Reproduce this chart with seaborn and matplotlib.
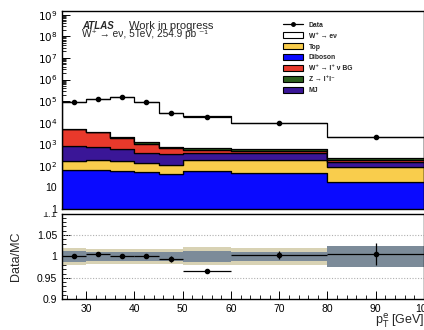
import numpy as np
import pandas as pd
import matplotlib
matplotlib.use("Agg")
import matplotlib.pyplot as plt
import matplotlib.ticker as mticker
from matplotlib.patches import Patch
from matplotlib.lines import Line2D
from matplotlib.transforms import Bbox
import seaborn as sns

# ====== DATA ======
edges = [25, 30, 35, 40, 45, 50, 60, 80, 100]
processes = ["W+ -> enu", "Z -> ll", "W -> lnu BG", "MJ", "Top", "Diboson"]

signal = [88000, 116000, 146000, 86000, 26200, 19300, 8700, 1960]
zll = [200, 150, 110, 160, 117, 131, 140, 47]
wlnu = [4090, 2950, 1410, 683, 308, 154, 93, 43]
mj = [646, 572, 466, 260, 238, 219, 201, 64]
top = [101, 115, 105, 86, 66, 139, 149, 71]
diboson = [63, 63, 59, 51, 41, 57, 47, 18]

data = [93100, 120570, 148300, 87330, 26810, 19320, 9360, 2216]
data_err = [100, 180, 220, 170, 160, 100, 95, 55]

sys_outer = [0.020, 0.017, 0.017, 0.017, 0.017, 0.021, 0.020, 0.020]
sys_inner = [0.012, 0.011, 0.010, 0.010, 0.011, 0.012, 0.010, 0.025]
# ==================

colors = {
    "W+ -> enu": "#ffffff",
    "Z -> ll": "#2b5e1c",
    "W -> lnu BG": "#e8392b",
    "MJ": "#3a1697",
    "Top": "#f9cd4c",
    "Diboson": "#0a0aff",
}

sns.set_style("ticks")
plt.rcParams["font.family"] = ["Liberation Sans", "DejaVu Sans"]

edges_arr = np.array(edges)
centers = 0.5 * (edges_arr[:-1] + edges_arr[1:])
half_w = 0.5 * np.diff(edges_arr)

rows = []
for name, vals in zip(processes, [signal, zll, wlnu, mj, top, diboson]):
    for c, v in zip(centers, vals):
        rows.append({"pt": c, "events": v, "process": name})
df = pd.DataFrame(rows)

fig = plt.figure(figsize=(4.24, 3.30), dpi=100)
ax = fig.add_axes([62 / 424, 1 - 209 / 330, 1 - 62 / 424, 198 / 330])
axr = fig.add_axes([62 / 424, 1 - 299.3 / 330, 1 - 62 / 424, 85.7 / 330])

# stacked MC (last hue level ends up at the bottom)
ax.set_yscale("log")
sns.histplot(data=df, x="pt", weights="events", hue="process", hue_order=processes,
             bins=edges, multiple="stack", element="step", palette=colors,
             alpha=1, edgecolor="black", linewidth=0.9, legend=False, ax=ax)

mc_total = np.array(signal) + np.array(zll) + np.array(wlnu) + np.array(mj) + np.array(top) + np.array(diboson)
ax.errorbar(centers, data, xerr=half_w, yerr=data_err, fmt="o", color="black",
            markersize=3, elinewidth=0.9, capsize=0, zorder=5)

ax.set_xlim(25, 100)
ax.set_ylim(1, 1.5e9)
ax.set_xlabel("")
ax.set_ylabel("")
ax.tick_params(labelbottom=False)


def log_fmt(v, pos):
    if v == 1:
        return "1"
    if v == 10:
        return "10"
    return r"$10^{%d}$" % int(round(np.log10(v)))


ax.yaxis.set_major_locator(mticker.LogLocator(base=10, numticks=12))
ax.yaxis.set_minor_locator(mticker.LogLocator(base=10, subs=np.arange(2, 10), numticks=12))
ax.yaxis.set_major_formatter(mticker.FuncFormatter(log_fmt))
ax.yaxis.set_minor_formatter(mticker.NullFormatter())

# ---- ratio panel ----
ratio = np.array(data) / mc_total
ratio_err = np.array(data_err) / mc_total
so = np.append(sys_outer, sys_outer[-1])
si = np.append(sys_inner, sys_inner[-1])
axr.fill_between(edges_arr, 1 - so, 1 + so, step="post", color="#d8d2b4", lw=0)
axr.fill_between(edges_arr, 1 - si, 1 + si, step="post", color="#7c8b99", lw=0)
for yv in [0.95, 1.05]:
    axr.axhline(yv, color="#b0b0b0", lw=0.8, ls=(0, (1, 1.5)))
axr.errorbar(centers, ratio, xerr=half_w, yerr=ratio_err, fmt="o", color="black",
             markersize=3, elinewidth=0.9, capsize=0, zorder=5)
axr.set_xlim(25, 100)
axr.set_ylim(0.9, 1.1)
axr.set_yticks([0.9, 0.95, 1.0, 1.05, 1.1])
axr.yaxis.set_major_formatter(mticker.FuncFormatter(lambda v, p: "" if v > 1.09 else "%g" % v))
axr.yaxis.set_minor_locator(mticker.MultipleLocator(0.01))
axr.xaxis.set_major_locator(mticker.MultipleLocator(10))
axr.xaxis.set_minor_locator(mticker.MultipleLocator(2))
ax.xaxis.set_major_locator(mticker.MultipleLocator(10))
ax.xaxis.set_minor_locator(mticker.MultipleLocator(2))

for a in (ax, axr):
    a.tick_params(which="both", direction="in", labelsize=7.5, colors="black",
                  top=False, right=False)
    a.tick_params(which="major", length=6, width=0.7)
    a.tick_params(which="minor", length=3, width=0.6)
    for s in a.spines.values():
        s.set_linewidth(1.0)
        s.set_color("black")

# "1.1" label half hidden under the upper pad, as in the original
t11 = fig.text(57 / 424, 1 - 213.6 / 330, "1.1", ha="right", va="center", fontsize=7.5)
t11.set_clip_box(Bbox.from_extents(0, 0, 424, 330 - 211.5))
t11.set_clip_on(True)

axr.set_ylabel("Data/MC", fontsize=9)
axr.yaxis.set_label_coords(-0.11, 0.5)
fig.text(1.0, 1 - 321 / 330, r"p$_{\rm T}^{\rm e}$ [GeV]", ha="right", va="center", fontsize=9)

fig.text(82 / 424, 1 - 29.3 / 330, "ATLAS", fontsize=7, fontweight="bold", style="italic",
         va="baseline")
fig.text(129 / 424, 1 - 29.3 / 330, "Work in progress", fontsize=8, va="baseline")
fig.text(82 / 424, 1 - 37 / 330, "W⁺ → eν, 5TeV, 254.9 pb ⁻¹", fontsize=7.3, va="baseline")

handles = [
    Line2D([0], [0], color="black", marker="o", markersize=2.5, lw=0.9),
    Patch(facecolor=colors["W+ -> enu"], edgecolor="black", lw=0.8),
    Patch(facecolor=colors["Top"], edgecolor="black", lw=0.8),
    Patch(facecolor=colors["Diboson"], edgecolor="black", lw=0.8),
    Patch(facecolor=colors["W -> lnu BG"], edgecolor="black", lw=0.8),
    Patch(facecolor=colors["Z -> ll"], edgecolor="black", lw=0.8),
    Patch(facecolor=colors["MJ"], edgecolor="black", lw=0.8),
]
labels = ["Data", "W⁺ → eν", "Top", "Diboson", "W⁺ → l⁺ ν BG", "Z → l⁺l⁻", "MJ"]
leg = fig.legend(handles, labels, loc="upper left", bbox_to_anchor=(283 / 424, 1 - 21.5 / 330),
                 frameon=False, prop={"size": 4.9, "weight": "bold"}, handlelength=3.0,
                 handleheight=0.9, labelspacing=0.55, handletextpad=0.8, borderpad=0,
                 borderaxespad=0)

fig.savefig("out.png", dpi=100)
